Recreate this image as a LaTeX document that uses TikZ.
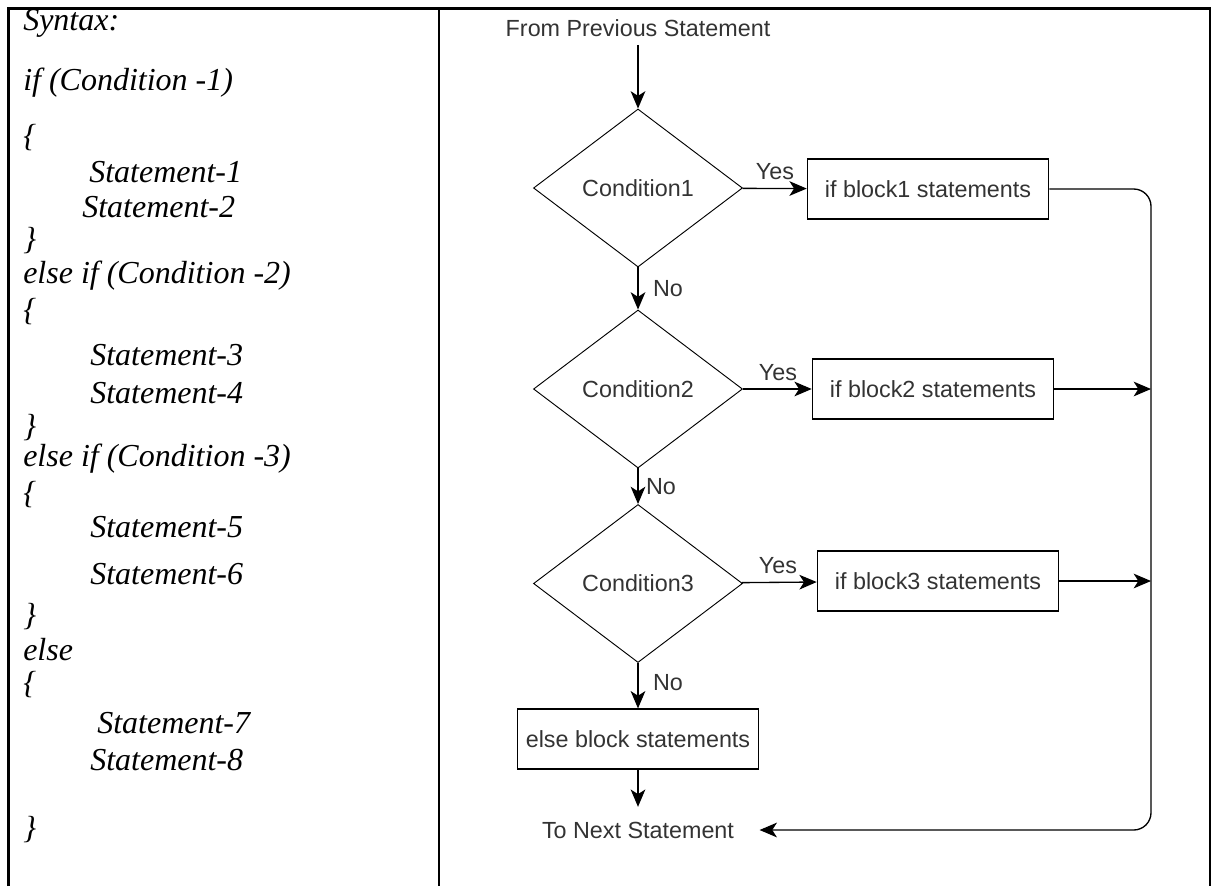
\documentclass[tikz,border=0pt]{standalone}
\usepackage{fontspec}
\setmainfont{Liberation Serif}
\newfontfamily\chartfont{Liberation Sans}
\usetikzlibrary{calc,shapes.geometric,arrows.meta}

\begin{document}
\begin{tikzpicture}[x=0.75pt,y=-0.75pt,code/.style={anchor=base west,inner sep=0,font=\fontsize{24}{28}\selectfont\itshape},decision/.style={draw,diamond,line width=0.7pt,minimum width=156.75pt,minimum height=118.5pt,inner sep=0,font=\chartfont\fontsize{17.5}{21}\selectfont,text=black!80},block/.style={draw,line width=0.9pt,minimum width=181pt,minimum height=45pt,font=\chartfont\fontsize{17.5}{21}\selectfont,text=black!80},label/.style={inner sep=0,font=\chartfont\fontsize{17.5}{21}\selectfont,text=black!80},arrow/.style={-{Stealth[length=13pt,width=11pt,inset=3.5pt]},line width=1pt},frame/.style={line width=2pt}]
  \useasboundingbox (0,0) rectangle (1216,886);
  \draw[frame] (8.5,886) -- (8.5,8.5) -- (1210,8.5) -- (1210,886);
  \draw[frame] (439,8.5) -- (439,886);
  \foreach \dx/\by/\txt [count=\i] in {0/30/Syntax:,0/90/if (Condition -1),0/146/\{,66/182/Statement-1,59/217/Statement-2,0/249/\},0/283/else if (Condition -2),0/320/\{,67/365/Statement-3,67/403/Statement-4,0/436/\},0/466/else if (Condition -3),0/503/\{,67/537/Statement-5,67/584/Statement-6,0/625/\},0/660/else,0/693/\{,74/733/Statement-7,67/770/Statement-8,0/838/\}}
    \node[code] (line\i) at (23+\dx,\by) {\txt};
  \node[label] (prev) at (638,28) {From Previous Statement};
  \node[decision] (cond1) at (638,188) {Condition1};
  \node[decision] (cond2) at (638,389) {Condition2};
  \node[decision] (cond3) at (638,583.5) {Condition3};
  \node[block] (blk1) at (928,189) {if block1 statements};
  \node[block] (blk2) at (933,389) {if block2 statements};
  \node[block] (blk3) at (938,581) {if block3 statements};
  \node[block] (elseblk) at (638,739) {else block statements};
  \node[label] (next) at (638,830) {To Next Statement};
  \coordinate (bus) at (1151,189);
  \node[label] (yes1) at ($ (cond1.east) + (32,-16) $) {Yes};
  \node[label] (yes2) at ($ (cond2.east) + (35,-16) $) {Yes};
  \node[label] (yes3) at ($ (cond3.east) + (35,-18) $) {Yes};
  \node[label] (no1) at ($ (cond1.south) + (30,21) $) {No};
  \node[label] (no2) at ($ (cond2.south) + (23,18) $) {No};
  \node[label] (no3) at ($ (cond3.south) + (30,19.5) $) {No};
  \draw[arrow,shorten <=6pt] (prev) -- (cond1);
  \draw[arrow] (cond1) -- (cond2);
  \draw[arrow] (cond2) -- (cond3);
  \draw[arrow] (cond3) -- (elseblk);
  \draw[arrow,shorten >=11pt] (elseblk) -- (next);
  \draw[arrow] (cond1) -- (blk1);
  \draw[arrow] (cond2) -- (blk2);
  \draw[arrow] (cond3) -- (blk3);
  \draw[arrow] (blk2) -- (blk2 -| bus);
  \draw[arrow] (blk3) -- (blk3 -| bus);
  \draw[arrow,rounded corners=13pt,shorten >=19pt] (blk1) -- (bus) |- (next);
\end{tikzpicture}
\end{document}
